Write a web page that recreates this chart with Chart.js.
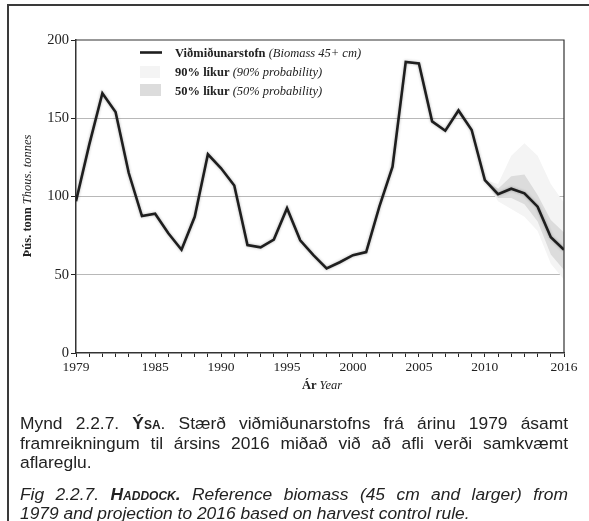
<!DOCTYPE html>
<html>
<head>
<meta charset="utf-8">
<script src="https://cdn.jsdelivr.net/npm/chart.js@4/dist/chart.umd.min.js"></script>
<style>
  html, body { margin: 0; padding: 0; background: #fff; }
  #wrap { position: relative; width: 589px; height: 521px; overflow: hidden; }
  #frame { position: absolute; left: 7px; top: 4px; width: 640px; height: 640px;
    border-left: 2px solid #3a3a3a; border-top: 2px solid #3a3a3a; }
  canvas { position: absolute; left: 0; top: 0; }
  #caption { position: absolute; left: 20px; top: 414px; width: 548px;
    font-family: "Liberation Sans", Arial, sans-serif; font-size: 17.4px;
    line-height: 19.5px; color: #222; }
  .j { text-align: justify; text-align-last: justify; white-space: nowrap; }
  .sc { font-variant: small-caps; font-weight: bold; }
  .fig { font-style: italic; margin-top: 12px; }
</style>
</head>
<body>
<div id="wrap">
  <div id="frame"></div>
  <canvas id="c" width="589" height="521"></canvas>
  <div id="caption">
    <div class="j">Mynd 2.2.7. <span class="sc">Ýsa</span>. Stærð viðmiðunarstofns frá árinu 1979 ásamt</div>
    <div class="j">framreikningum til ársins 2016 miðað við að afli verði samkvæmt</div>
    <div>aflareglu.</div>
    <div class="fig">
      <div class="j">Fig 2.2.7. <span class="sc">Haddock.</span> Reference biomass (45 cm and larger) from</div>
      <div>1979 and projection to 2016 based on harvest control rule.</div>
    </div>
  </div>
</div>
<script>
// biomass 45+ cm, thousand tonnes
const years = [1979, 1980, 1981, 1982, 1983, 1984, 1985, 1986, 1987, 1988,
  1989, 1990, 1991, 1992, 1993, 1994, 1995, 1996, 1997, 1998,
  1999, 2000, 2001, 2002, 2003, 2004, 2005, 2006, 2007, 2008,
  2009, 2010, 2011, 2012, 2013, 2014, 2015, 2016];
const biomass = [97, 133, 166, 154, 115, 87.5, 89, 76.5, 66, 87,
  127, 118, 107, 69, 67.5, 72.5, 92.5, 72, 62.5, 54,
  58, 62.5, 64.5, 93.5, 119, 186, 185, 148, 142, 155,
  142.5, 110.5, 101.5, 105, 102, 93.5, 74, 66];

// projection bands
const bandYears = [2010, 2011, 2012, 2013, 2014, 2015, 2016];
const p50lo = [110.5, 99, 99, 95, 84, 63, 53];
const p50hi = [110.5, 105, 113, 114, 101, 85, 77];
const p90lo = [110.5, 97, 92, 87, 78, 57, 47];
const p90hi = [110.5, 108, 126, 134, 126, 108, 96];

const xLabels = [1979, 1985, 1990, 1995, 2000, 2005, 2010, 2016];

const pts = (xs, ys) => xs.map((x, i) => ({ x: x, y: ys[i] }));
const serif = '"Liberation Serif", "Times New Roman", serif';
const ink = '#222';

const extras = {
  id: 'extras',
  beforeDatasetDraw(chart, args) {
    if (args.index === 0) {
      chart.ctx.save();
      chart.ctx.shadowColor = 'rgba(0,0,0,0.3)';
      chart.ctx.shadowBlur = 3;
    }
  },
  afterDatasetDraw(chart, args) {
    if (args.index === 0) chart.ctx.restore();
  },
  afterDraw(chart) {
    const ctx = chart.ctx;
    const a = chart.chartArea;
    ctx.save();
    // top + right border of the plot
    ctx.strokeStyle = '#333';
    ctx.lineWidth = 1.2;
    ctx.beginPath();
    ctx.moveTo(a.left, a.top);
    ctx.lineTo(a.right, a.top);
    ctx.lineTo(a.right, a.bottom);
    ctx.stroke();

    // legend
    ctx.strokeStyle = '#1e1e1e';
    ctx.lineWidth = 2.6;
    ctx.beginPath();
    ctx.moveTo(140, 52.5);
    ctx.lineTo(162, 52.5);
    ctx.stroke();
    ctx.fillStyle = '#f4f4f4';
    ctx.fillRect(140, 66, 20, 12);
    ctx.fillStyle = '#dcdcdc';
    ctx.fillRect(140, 84, 21, 12);
    const rows = [
      ['Viðmiðunarstofn ', '(Biomass 45+ cm)', 57],
      ['90% líkur ', '(90% probability)', 76],
      ['50% líkur ', '(50% probability)', 94.5]
    ];
    ctx.fillStyle = ink;
    ctx.textBaseline = 'alphabetic';
    rows.forEach(r => {
      ctx.font = 'bold 12.5px ' + serif;
      ctx.fillText(r[0], 175, r[2]);
      const w = ctx.measureText(r[0]).width;
      ctx.font = 'italic 12.5px ' + serif;
      ctx.fillText(r[1], 175 + w, r[2]);
    });

    // axis titles, bold Icelandic + italic English
    const mixed = (a1, b1, cx, cy, rot) => {
      ctx.save();
      ctx.translate(cx, cy);
      if (rot) ctx.rotate(-Math.PI / 2);
      ctx.font = 'bold 12.5px ' + serif;
      const w1 = ctx.measureText(a1).width;
      ctx.font = 'italic 12.5px ' + serif;
      const w2 = ctx.measureText(b1).width;
      const x0 = -(w1 + w2) / 2;
      ctx.textBaseline = 'middle';
      ctx.font = 'bold 12.5px ' + serif;
      ctx.fillText(a1, x0, 0);
      ctx.font = 'italic 12.5px ' + serif;
      ctx.fillText(b1, x0 + w1, 0);
      ctx.restore();
    };
    mixed('Ár ', 'Year', 322, 386, false);
    mixed('Þús. tonn ', 'Thous. tonnes', 28, 196, true);
    ctx.restore();
  }
};

new Chart(document.getElementById('c'), {
  type: 'line',
  data: {
    datasets: [
      { data: pts(years, biomass), borderColor: '#1e1e1e', borderWidth: 2.6,
        pointRadius: 0, fill: false, tension: 0 },
      { data: pts(bandYears, p50lo), borderWidth: 0, pointRadius: 0, fill: false },
      { data: pts(bandYears, p50hi), borderWidth: 0, pointRadius: 0,
        fill: '-1', backgroundColor: '#dcdcdc' },
      { data: pts(bandYears, p90lo), borderWidth: 0, pointRadius: 0, fill: false },
      { data: pts(bandYears, p90hi), borderWidth: 0, pointRadius: 0,
        fill: '-1', backgroundColor: '#f4f4f4' }
    ]
  },
  options: {
    responsive: false,
    animation: false,
    events: [],
    layout: { padding: { top: 40, right: 25, left: 0, bottom: 121 } },
    plugins: { legend: { display: false }, tooltip: { enabled: false } },
    scales: {
      x: {
        type: 'linear',
        min: 1979,
        max: 2016,
        afterFit: s => { s.height = 47; },
        ticks: {
          stepSize: 1,
          autoSkip: false,
          maxRotation: 0,
          padding: 2,
          color: ink,
          font: { family: serif, size: 13.5 },
          callback: v => xLabels.includes(v) ? String(v) : ''
        },
        grid: { drawOnChartArea: false, tickLength: 4, tickColor: ink, lineWidth: 1 },
        border: { color: '#333', width: 1.5 }
      },
      y: {
        min: 0,
        max: 200,
        afterFit: s => { s.width = 76; },
        ticks: {
          stepSize: 50,
          padding: 2,
          color: ink,
          font: { family: serif, size: 14.5 }
        },
        grid: {
          color: c => (c.tick && c.tick.value > 0 && c.tick.value < 200) ? '#b8b8b8' : 'rgba(0,0,0,0)',
          tickColor: ink,
          tickLength: 5,
          lineWidth: 1
        },
        border: { color: '#333', width: 1.5 }
      }
    }
  },
  plugins: [extras]
});
</script>
</body>
</html>
